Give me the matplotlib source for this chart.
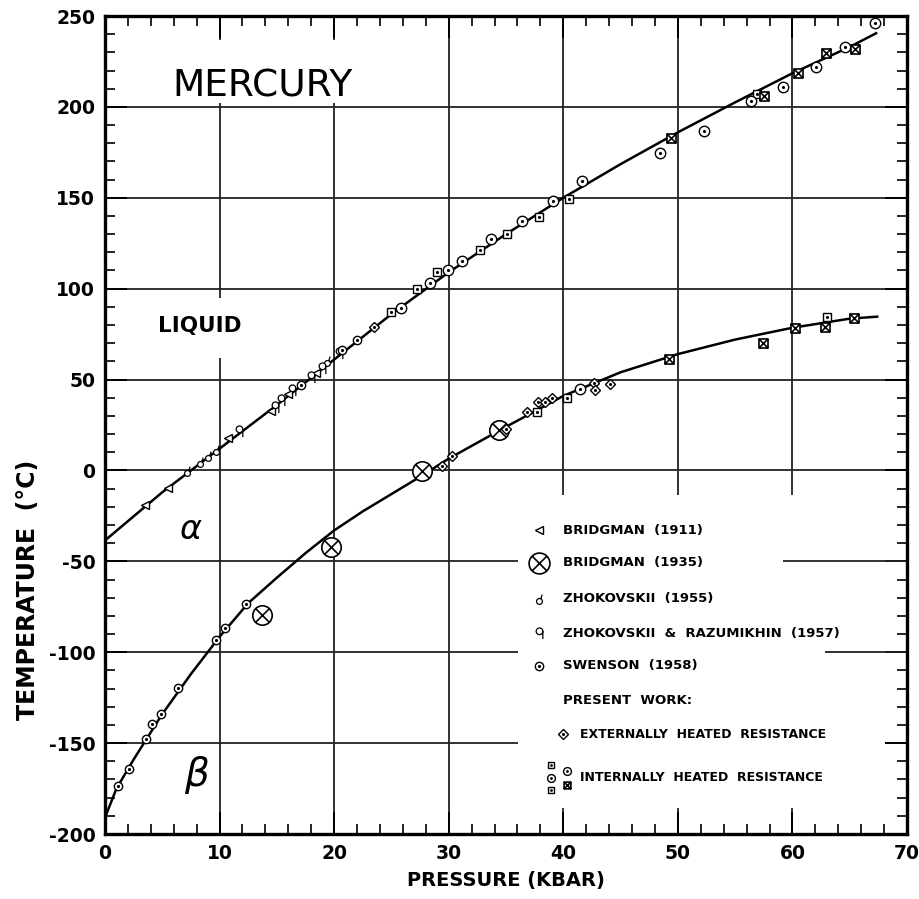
import numpy as np
import matplotlib
matplotlib.use("Agg")
import matplotlib.pyplot as plt
from matplotlib.path import Path
from matplotlib.patches import Rectangle
from matplotlib.ticker import MultipleLocator

plt.rcParams['font.family'] = ['DejaVu Sans']
plt.rcParams['axes.unicode_minus'] = False

# melting curve (liquid / alpha) and alpha-beta transition
melt_p = [0, 5, 10, 15, 20, 25, 30, 35, 40, 45, 50, 55, 60, 65, 67.3]
melt_t = [-38.5, -12, 12, 36, 61, 86, 109, 130, 150, 168.5, 186, 202.5, 218.5, 233, 240.5]
ab_p = [0, 1, 2.5, 5, 7.5, 10, 12.5, 15, 17.5, 20, 22.5, 25, 27.5, 30, 35, 40, 45, 50, 55, 60, 65, 67.4]
ab_t = [-191, -175, -159, -134, -112, -91.5, -73, -59, -45.5, -33, -22.5, -13, -3.5, 6.5,
        24, 41, 54, 64, 72, 78.5, 83.5, 84.6]

# data points by source
bridg1911_p = [3.5, 5.5, 10.7, 14.5, 16.0, 18.4]
bridg1911_t = [-19, -9.5, 18, 32.5, 42, 53.5]
bridg1935_p = [13.7, 19.7, 27.7, 34.4]
bridg1935_t = [-79.6, -42.3, -0.5, 22]
zhok1955_p = [7.2, 8.3, 9.0, 9.7, 19.4]
zhok1955_t = [-0.5, 4.4, 7.7, 11.5, 60]
zhok1957_p = [11.7, 14.8, 15.4, 16.3, 18.0, 18.9, 20.4]
zhok1957_t = [21.5, 35, 39, 44.5, 51.6, 56.6, 64.8]
swenson_p = [1.1, 2.1, 3.6, 4.1, 4.9, 6.4, 9.7, 10.5, 12.3, 17.1, 20.7, 22.0]
swenson_t = [-173.6, -164, -148, -139.6, -134, -119.8, -93.4, -86.8, -73.6, 47, 66.5, 72]
ext_p = [23.5, 29.4, 30.3, 35.0, 36.8, 37.8, 38.4, 39.0, 42.7, 42.8, 44.1]
ext_t = [79, 2.7, 8.2, 23, 32, 37.4, 37.4, 40, 48.3, 44.5, 47.8]
int_sq_p = [25.0, 27.2, 29.0, 32.7, 35.1, 37.9, 40.5, 56.9, 37.7, 40.3, 63.0]
int_sq_t = [87, 100, 109, 121, 130, 139.5, 149.5, 207, 32.4, 39.6, 84.6]
int_circ_p = [25.8, 28.4, 29.9, 31.2, 33.7, 36.4, 39.1, 41.6, 48.4, 52.3, 56.4, 59.2, 62.1, 64.6, 67.2, 41.5]
int_circ_t = [89.5, 103, 110.5, 115, 127.5, 137, 148.5, 159, 174.7, 187, 203, 211, 222, 233, 246, 45]
int_sqx_p = [49.4, 57.5, 60.5, 62.9, 65.5, 49.2, 57.4, 60.2, 62.8, 65.4]
int_sqx_t = [183, 206, 218.7, 229.7, 232, 61.5, 70, 78.6, 79, 84]

legend_labels = ['BRIDGMAN  (1911)', 'BRIDGMAN  (1935)', 'ZHOKOVSKII  (1955)',
                 'ZHOKOVSKII  &  RAZUMIKHIN  (1957)', 'SWENSON  (1958)']

# custom marker shapes
circ = Path.unit_circle()
cross = Path([(-0.7, -0.7), (0.7, 0.7), (-0.7, 0.7), (0.7, -0.7)],
             [Path.MOVETO, Path.LINETO, Path.MOVETO, Path.LINETO])
square = Path([(-1, -1), (1, -1), (1, 1), (-1, 1), (-1, -1)],
              [Path.MOVETO, Path.LINETO, Path.LINETO, Path.LINETO, Path.CLOSEPOLY])
sq_cross = Path([(-1, -1), (1, 1), (-1, 1), (1, -1)],
                [Path.MOVETO, Path.LINETO, Path.MOVETO, Path.LINETO])
m_circx = Path.make_compound_path(circ, cross)
m_sqx = Path.make_compound_path(square, sq_cross)
m_tick = Path.make_compound_path(
    Path(circ.vertices * 0.6 + [0, -0.4], circ.codes),
    Path([(0.25, 0.15), (0.55, 1.0)], [Path.MOVETO, Path.LINETO]))
m_tail = Path.make_compound_path(
    Path(circ.vertices * 0.6 + [0, 0.4], circ.codes),
    Path([(0.6, 0.4), (0.6, -1.0)], [Path.MOVETO, Path.LINETO]))

styles = {
    'b1911': dict(marker='<', ms=6, mfc='white', mec='black', mew=1.0),
    'b1935': dict(marker=m_circx, ms=14, mfc='white', mec='black', mew=1.2),
    'z1955': dict(marker=m_tick, ms=7, mfc='white', mec='black', mew=0.9),
    'z1957': dict(marker=m_tail, ms=8, mfc='white', mec='black', mew=0.9),
    'swen': dict(marker='o', ms=6, mfc='white', mec='black', mew=1.0),
    'ext': dict(marker='D', ms=5.5, mfc='white', mec='black', mew=1.0),
    'isq': dict(marker='s', ms=6, mfc='white', mec='black', mew=1.0),
    'icirc': dict(marker='o', ms=7.5, mfc='white', mec='black', mew=1.0),
    'isqx': dict(marker=m_sqx, ms=6.5, mfc='white', mec='black', mew=1.2),
}
dotted = {'swen', 'ext', 'isq', 'icirc'}

fig = plt.figure(figsize=(9.2, 8.99), dpi=100)
ax = fig.add_axes([105 / 920, 1 - 834 / 899, 802 / 920, 818 / 899])

ax.set_xlim(0, 70)
ax.set_ylim(-200, 250)
ax.xaxis.set_major_locator(MultipleLocator(10))
ax.xaxis.set_minor_locator(MultipleLocator(2))
ax.yaxis.set_major_locator(MultipleLocator(50))
ax.yaxis.set_minor_locator(MultipleLocator(10))
ax.tick_params(which='both', direction='in', top=True, right=True, color='black')
ax.tick_params(which='major', length=16, width=1.4, labelsize=13.5, pad=7)
ax.tick_params(which='minor', length=7, width=1.2)
for lab in ax.get_xticklabels() + ax.get_yticklabels():
    lab.set_fontweight('bold')
for s in ax.spines.values():
    s.set_linewidth(2.4)
ax.set_axisbelow(True)
ax.grid(which='major', color='#222222', linewidth=1.3)

# blank areas behind the text, as in the original drawing
ax.add_patch(Rectangle((0.515, 0.032), 0.457, 0.382, transform=ax.transAxes,
                       facecolor='white', edgecolor='none', zorder=1))
ax.add_patch(Rectangle((0.056, 0.894), 0.281, 0.077, transform=ax.transAxes,
                       facecolor='white', edgecolor='none', zorder=1))
ax.add_patch(Rectangle((0.050, 0.582), 0.137, 0.073, transform=ax.transAxes,
                       facecolor='white', edgecolor='none', zorder=1))
ax.hlines([-50, -100], [59.2, 62.8], [70, 70], color='#222222', linewidth=1.3, zorder=1.1)

ax.plot(melt_p, melt_t, color='black', linewidth=1.8, zorder=2)
ax.plot(ab_p, ab_t, color='black', linewidth=1.8, zorder=2)

series = [
    ('b1911', bridg1911_p, bridg1911_t),
    ('b1935', bridg1935_p, bridg1935_t),
    ('z1955', zhok1955_p, zhok1955_t),
    ('z1957', zhok1957_p, zhok1957_t),
    ('swen', swenson_p, swenson_t),
    ('ext', ext_p, ext_t),
    ('isq', int_sq_p, int_sq_t),
    ('icirc', int_circ_p, int_circ_t),
    ('isqx', int_sqx_p, int_sqx_t),
]
for key, p, t in series:
    ax.plot(p, t, linestyle='none', zorder=3, **styles[key])
    if key in dotted:
        ax.plot(p, t, linestyle='none', marker='.', ms=2.5, color='black', zorder=4)

# labels
ax.set_xlabel('PRESSURE (KBAR)', fontsize=14, fontweight='bold', labelpad=6)
fig.text(28 / 920, 1 - 590 / 899, 'TEMPERATURE  (°C)', rotation=90, fontsize=17,
         fontweight='bold', ha='center', va='center')
ax.text(0.196, 0.914, 'MERCURY', transform=ax.transAxes, fontsize=27,
        ha='center', va='center', zorder=5)
ax.text(0.118, 0.621, 'LIQUID', transform=ax.transAxes, fontsize=15.5,
        fontweight='bold', ha='center', va='center', zorder=5)
ax.text(0.107, 0.372, r'$\alpha$', transform=ax.transAxes, fontsize=24,
        ha='center', va='center', zorder=5)
ax.text(0.115, 0.072, r'$\beta$', transform=ax.transAxes, fontsize=28,
        ha='center', va='center', zorder=5)

# hand-drawn key
row_y = [0.3716, 0.3313, 0.2873, 0.2457, 0.2054]
keys = ['b1911', 'b1935', 'z1955', 'z1957', 'swen']
for k, y, lab in zip(keys, row_y, legend_labels):
    st = dict(styles[k])
    if k == 'b1935':
        st['ms'] = 15
    ax.plot([0.541], [y], transform=ax.transAxes, linestyle='none', clip_on=False,
            zorder=5, **st)
    if k in dotted:
        ax.plot([0.541], [y], transform=ax.transAxes, linestyle='none', marker='.',
                ms=2.5, color='black', zorder=6)
    ax.text(0.571, y, lab, transform=ax.transAxes, fontsize=9.5, fontweight='bold',
            ha='left', va='center', zorder=5)
ax.text(0.571, 0.1626, 'PRESENT  WORK:', transform=ax.transAxes, fontsize=9.5,
        fontweight='bold', ha='left', va='center', zorder=5)
ax.plot([0.571], [0.1222], transform=ax.transAxes, linestyle='none', zorder=5, **styles['ext'])
ax.plot([0.571], [0.1222], transform=ax.transAxes, linestyle='none', marker='.',
        ms=2.5, color='black', zorder=6)
ax.text(0.592, 0.1222, 'EXTERNALLY  HEATED  RESISTANCE', transform=ax.transAxes,
        fontsize=9, fontweight='bold', ha='left', va='center', zorder=5)
for k, x, y in [('isq', 0.556, 0.0844), ('icirc', 0.556, 0.0685), ('isq', 0.556, 0.0538),
                ('icirc', 0.576, 0.077), ('isqx', 0.576, 0.060)]:
    st = dict(styles[k])
    st['ms'] = st['ms'] * 0.75
    ax.plot([x], [y], transform=ax.transAxes, linestyle='none', zorder=5, **st)
    if k in dotted:
        ax.plot([x], [y], transform=ax.transAxes, linestyle='none', marker='.',
                ms=2, color='black', zorder=6)
ax.text(0.592, 0.0685, 'INTERNALLY  HEATED  RESISTANCE', transform=ax.transAxes,
        fontsize=9, fontweight='bold', ha='left', va='center', zorder=5)

fig.savefig('out.png', dpi=100)
